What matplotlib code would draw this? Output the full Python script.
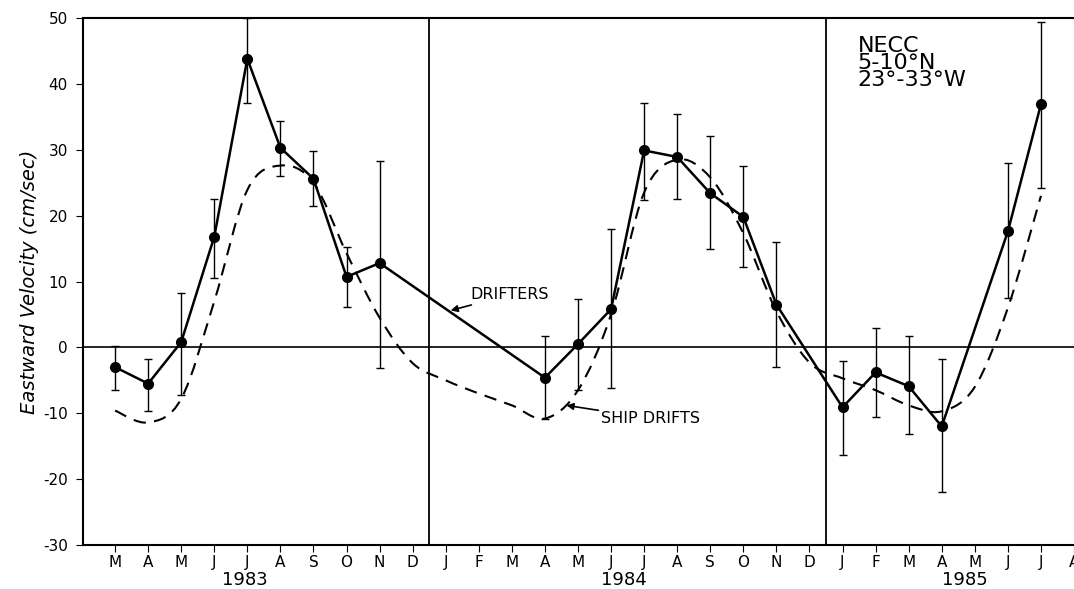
import matplotlib.pyplot as plt
from matplotlib.path import Path
from matplotlib.patches import PathPatch
from matplotlib.transforms import blended_transform_factory

plt.rcParams['axes.unicode_minus'] = False

# months from Mar 1983 (index 0) to Aug 1985
months = ['M', 'A', 'M', 'J', 'J', 'A', 'S', 'O', 'N', 'D',
          'J', 'F', 'M', 'A', 'M', 'J', 'J', 'A', 'S', 'O', 'N', 'D',
          'J', 'F', 'M', 'A', 'M', 'J', 'J', 'A']

# drifter monthly means and error bar ends
drift_x = [0, 1, 2, 3, 4, 5, 6, 7, 8, 13, 14, 15, 16, 17, 18, 19, 20,
           22, 23, 24, 25, 27, 28]
drift_v = [-3.0, -5.5, 0.8, 16.8, 43.8, 30.3, 25.6, 10.7, 12.8, -4.6, 0.5, 5.8,
           29.9, 28.9, 23.4, 19.8, 6.5, -9.1, -3.8, -5.9, -12.0, 17.6, 36.9]
drift_hi = [0.2, -1.7, 8.3, 22.5, 50.0, 34.3, 29.8, 15.2, 28.3, 1.8, 7.3, 17.9,
            37.1, 35.4, 32.1, 27.5, 16.0, -2.0, 3.0, 1.8, -1.7, 28.0, 49.4]
drift_lo = [-6.4, -9.6, -7.3, 10.6, 37.1, 26.0, 21.5, 6.1, -3.2, -10.8, -6.4, -6.1,
            22.3, 22.5, 15.0, 12.2, -3.0, -16.3, -10.6, -13.1, -21.9, 7.5, 24.2]

# ship drift climatology
ship_x = list(range(0, 29))
ship_v = [-9.6, -11.4, -7.8, 7.0, 23.9, 27.6, 25.0, 14.3, 4.5, -2.4,
          -5.0, -7.0, -8.8, -10.8, -6.5, 5.0, 23.5, 28.5, 25.8, 17.3, 5.5, -2.3,
          -4.7, -6.5, -8.8, -9.7, -6.0, 6.0, 23.0]

fig = plt.figure(figsize=(10.74, 5.89), dpi=100)
ax = fig.add_axes([83/1074, 1 - 545/589, 1 - 83/1074, 527/589])

# smooth dashed curve through the ship drift values (bezier segments)
verts = [(ship_x[0], ship_v[0])]
codes = [Path.MOVETO]
n = len(ship_x)
for i in range(n - 1):
    x0, y0 = ship_x[max(i - 1, 0)], ship_v[max(i - 1, 0)]
    x1, y1 = ship_x[i], ship_v[i]
    x2, y2 = ship_x[i + 1], ship_v[i + 1]
    x3, y3 = ship_x[min(i + 2, n - 1)], ship_v[min(i + 2, n - 1)]
    verts += [(x1 + (x2 - x0) / 6, y1 + (y2 - y0) / 6),
              (x2 - (x3 - x1) / 6, y2 - (y3 - y1) / 6),
              (x2, y2)]
    codes += [Path.CURVE4] * 3
ax.add_patch(PathPatch(Path(verts, codes), fill=False, color='black', lw=1.5,
                       ls=(0, (6, 4))))

yerr = [[v - l for v, l in zip(drift_v, drift_lo)],
        [h - v for v, h in zip(drift_v, drift_hi)]]
ax.errorbar(drift_x, drift_v, yerr=yerr, fmt='o-', color='black', lw=1.8,
            ms=7, ecolor='black', elinewidth=1.0, capsize=3, capthick=1.0)

ax.axhline(0, color='black', lw=1.2)
ax.axvline(9.5, color='black', lw=1.3)
ax.axvline(21.5, color='black', lw=1.3)

ax.set_xlim(-0.97, 28.97)
ax.set_ylim(-30, 50)
ax.set_yticks(range(-30, 51, 10))
ax.set_xticks(range(len(months)))
ax.set_xticklabels(months, fontsize=11)
ax.tick_params(axis='y', labelsize=11, length=5, pad=6)
ax.tick_params(axis='x', length=5, pad=2)
ax.spines['right'].set_visible(False)
for s in ['left', 'bottom', 'top']:
    ax.spines[s].set_linewidth(1.5)

ax.set_ylabel('Eastward Velocity (cm/sec)', fontsize=14, style='italic', labelpad=3)

tr = blended_transform_factory(ax.transData, ax.transAxes)
for yr, xc in [('1983', 3.93), ('1984', 15.4), ('1985', 25.7)]:
    ax.text(xc, -40 / 527, yr, transform=tr, ha='center', va='baseline',
            fontsize=13)

ax.annotate('DRIFTERS', xy=(10.15, 5.6), xytext=(10.75, 8.0), fontsize=11.5,
            va='center', ha='left',
            arrowprops=dict(arrowstyle='-|>', color='black', lw=1.2,
                            shrinkA=0, shrinkB=0, mutation_scale=10))
ax.annotate('SHIP DRIFTS', xy=(13.65, -8.8), xytext=(14.7, -10.8), fontsize=11.5,
            va='center', ha='left',
            arrowprops=dict(arrowstyle='-|>', color='black', lw=1.2,
                            shrinkA=0, shrinkB=0, mutation_scale=10))

ax.text(22.45, 47.2, 'NECC\n5-10°N\n23°-33°W', fontsize=16, va='top', ha='left',
        linespacing=0.8)

plt.savefig('out.png', dpi=100)
